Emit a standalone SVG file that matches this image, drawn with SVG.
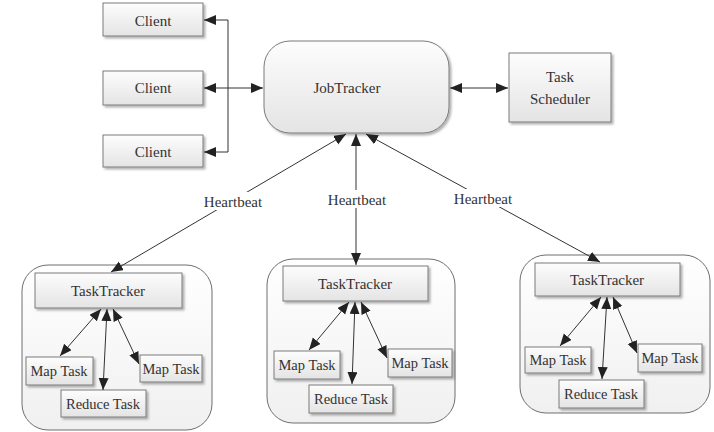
<svg xmlns="http://www.w3.org/2000/svg" width="714" height="432" viewBox="0 0 714 432">
<style>
.box{fill:url(#g);stroke:#7a7a7a;stroke-width:1;filter:url(#sh)}
.cont{fill:url(#gc);stroke:#6f6f6f;stroke-width:1}
text{font-family:'Liberation Serif','Times New Roman','DejaVu Serif',serif;font-size:15px;fill:#333;text-anchor:middle}
.s{font-size:14.5px}
.ln{stroke:#333;stroke-width:1;fill:none}
.a2{marker-start:url(#ah);marker-end:url(#ah)}
.a1{marker-end:url(#ah)}
</style>
<defs>
<linearGradient id="g" x1="0" y1="0" x2="0" y2="1"><stop offset="0" stop-color="#fdfdfd"/><stop offset="1" stop-color="#e4e4e4"/></linearGradient>
<linearGradient id="gc" x1="0" y1="0" x2="0" y2="1"><stop offset="0" stop-color="#ffffff"/><stop offset="1" stop-color="#f0f0f0"/></linearGradient>
<filter id="sh" x="-10%" y="-10%" width="130%" height="140%"><feDropShadow dx="2" dy="2" stdDeviation="1" flood-color="#000" flood-opacity="0.3"/></filter>
<marker id="ah" markerUnits="userSpaceOnUse" markerWidth="13" markerHeight="11" refX="12" refY="5" orient="auto-start-reverse"><path d="M0,0 L12,5 L0,10 z" fill="#222"/></marker>
</defs>
<g font-family="Liberation Serif, Times New Roman, serif">
<g id="client1"><rect class="box" x="103" y="3" width="100" height="33"/><text x="153" y="26">Client</text></g>
<g id="client2"><rect class="box" x="103" y="71" width="100" height="34"/><text x="153" y="93">Client</text></g>
<g id="client3"><rect class="box" x="103" y="135" width="100" height="32"/><text x="153" y="157">Client</text></g>
<g id="jobtracker"><rect class="box" x="264" y="41" width="185" height="92" rx="26" ry="26"/><text x="347" y="93">JobTracker</text></g>
<g id="scheduler"><rect class="box" x="509" y="53" width="102" height="69"/><text x="560" y="82">Task</text><text x="560" y="104">Scheduler</text></g>
<g id="tracker1"><rect class="cont" x="22" y="265" width="190" height="165" rx="26" ry="26"/>
<rect class="box" x="35" y="273" width="147" height="35"/><text x="108" y="296">TaskTracker</text>
<rect class="box" x="26" y="357" width="67" height="28"/><text class="s" x="59" y="376">Map Task</text>
<rect class="box" x="140" y="355" width="62" height="27"/><text class="s" x="171" y="374">Map Task</text>
<rect class="box" x="61" y="390" width="85" height="27"/><text class="s" x="103" y="409">Reduce Task</text></g>
<g id="tracker2"><rect class="cont" x="267" y="259" width="188" height="164" rx="26" ry="26"/>
<rect class="box" x="283" y="266" width="145" height="35"/><text x="355" y="289">TaskTracker</text>
<rect class="box" x="274" y="351" width="66" height="28"/><text class="s" x="307" y="370">Map Task</text>
<rect class="box" x="388" y="349" width="64" height="28"/><text class="s" x="420" y="368">Map Task</text>
<rect class="box" x="309" y="385" width="84" height="28"/><text class="s" x="351" y="404">Reduce Task</text></g>
<g id="tracker3"><rect class="cont" x="520" y="255" width="190" height="158" rx="26" ry="26"/>
<rect class="box" x="535" y="263" width="145" height="33"/><text x="607" y="285">TaskTracker</text>
<rect class="box" x="525" y="347" width="66" height="26"/><text class="s" x="558" y="365">Map Task</text>
<rect class="box" x="638" y="344" width="64" height="28"/><text class="s" x="670" y="363">Map Task</text>
<rect class="box" x="559" y="380" width="85" height="28"/><text class="s" x="601" y="399">Reduce Task</text></g>
<g id="connectors">
<path class="ln" d="M228,20 V152"/>
<path class="ln a1" d="M228,20 H204"/>
<path class="ln a1" d="M228,152 H204"/>
<path class="ln a2" d="M204,88 H263"/>
<path class="ln a2" d="M450,88 H508"/>
<path class="ln a2" d="M346,134 L111,272"/>
<path class="ln a2" d="M356,134 V265"/>
<path class="ln a2" d="M366,134 L600,262"/>
<rect x="200" y="192" width="66" height="18" fill="#fff"/>
<rect x="326" y="190" width="62" height="18" fill="#fff"/>
<rect x="451" y="189" width="64" height="18" fill="#fff"/>
<text x="233" y="207">Heartbeat</text>
<text x="357" y="205">Heartbeat</text>
<text x="483" y="204">Heartbeat</text>
<path class="ln a2" d="M101,309 L60,356"/>
<path class="ln a2" d="M107,309 L103,390"/>
<path class="ln a2" d="M113,309 L139,364"/>
<path class="ln a2" d="M349,302 L309,350"/>
<path class="ln a2" d="M355,302 L352,384"/>
<path class="ln a2" d="M361,302 L387,358"/>
<path class="ln a2" d="M601,297 L560,346"/>
<path class="ln a2" d="M607,297 L602,379"/>
<path class="ln a2" d="M613,297 L637,353"/>
</g>
</g>
</svg>
